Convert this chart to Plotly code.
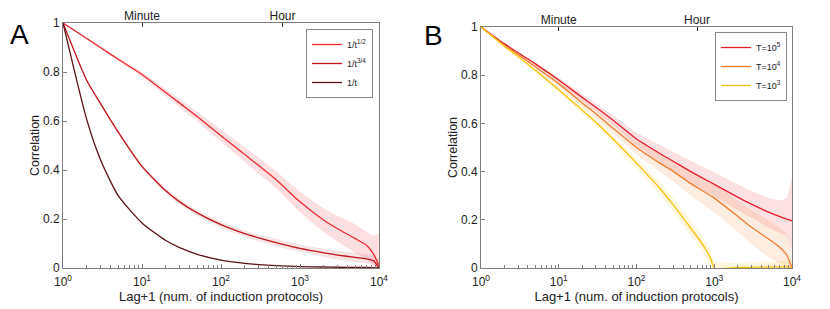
import plotly.graph_objects as go

# ---------------- data ----------------
# Panel A
a_t = [1, 2, 3, 5, 10, 20, 30, 50, 100, 200, 300, 500, 1000, 2000, 3000, 5000, 7000, 8500, 10000]
a_half = [1.0, 0.937, 0.899, 0.852, 0.79, 0.716, 0.673, 0.618, 0.54, 0.463, 0.418, 0.36, 0.27, 0.195, 0.16, 0.12, 0.092, 0.058, 0.01]
a_half_hi = [1.0, 0.942, 0.904, 0.859, 0.80, 0.73, 0.689, 0.638, 0.565, 0.493, 0.451, 0.395, 0.312, 0.243, 0.213, 0.178, 0.147, 0.132, 0.14]
a_half_lo = [1.0, 0.932, 0.894, 0.845, 0.78, 0.702, 0.657, 0.598, 0.515, 0.433, 0.385, 0.325, 0.228, 0.147, 0.107, 0.062, 0.035, 0.012, 0.0]
a_34 = [1.0, 0.765, 0.67, 0.555, 0.415, 0.315, 0.27, 0.225, 0.177, 0.14, 0.123, 0.104, 0.08, 0.062, 0.053, 0.043, 0.037, 0.03, 0.0]
a_34_hi = [1.0, 0.77, 0.677, 0.563, 0.424, 0.325, 0.281, 0.237, 0.19, 0.153, 0.137, 0.119, 0.095, 0.079, 0.071, 0.062, 0.056, 0.05, 0.03]
a_34_lo = [1.0, 0.76, 0.663, 0.547, 0.406, 0.305, 0.259, 0.213, 0.164, 0.127, 0.109, 0.089, 0.065, 0.045, 0.035, 0.024, 0.018, 0.012, 0.0]
a_one = [1.0, 0.605, 0.44, 0.295, 0.184, 0.112, 0.083, 0.056, 0.032, 0.019, 0.014, 0.01, 0.006, 0.004, 0.003, 0.002, 0.002, 0.001, 0.0]

# Panel B
b_t = [1, 2, 3, 5, 10, 20, 30, 50, 100, 200, 300, 500, 1000, 2000, 3000, 5000, 7000, 8500, 10000]
b_t5 = [1.0, 0.93, 0.893, 0.847, 0.78, 0.708, 0.667, 0.613, 0.535, 0.475, 0.442, 0.40, 0.347, 0.294, 0.265, 0.232, 0.213, 0.203, 0.196]
b_t5_hi = [1.0, 0.935, 0.898, 0.854, 0.79, 0.722, 0.683, 0.633, 0.562, 0.51, 0.481, 0.445, 0.397, 0.347, 0.32, 0.292, 0.281, 0.29, 0.37]
b_t5_lo = [1.0, 0.925, 0.888, 0.84, 0.77, 0.694, 0.651, 0.593, 0.508, 0.44, 0.403, 0.355, 0.297, 0.241, 0.208, 0.168, 0.145, 0.132, 0.07]
b_t4 = [1.0, 0.925, 0.886, 0.835, 0.765, 0.685, 0.64, 0.58, 0.50, 0.435, 0.40, 0.35, 0.29, 0.215, 0.17, 0.12, 0.085, 0.055, 0.0]
b_t4_hi = [1.0, 0.93, 0.892, 0.843, 0.777, 0.701, 0.659, 0.603, 0.528, 0.472, 0.442, 0.40, 0.35, 0.28, 0.24, 0.197, 0.165, 0.14, 0.05]
b_t4_lo = [1.0, 0.92, 0.88, 0.827, 0.753, 0.669, 0.621, 0.557, 0.472, 0.398, 0.358, 0.30, 0.23, 0.15, 0.10, 0.045, 0.02, 0.005, 0.0]
b_t3x = [1, 2, 3, 5, 10, 20, 30, 50, 100, 200, 300, 500, 700, 900, 1000, 2000, 3000, 5000, 7000, 8500, 10000]
b_t3 = [1.0, 0.92, 0.878, 0.82, 0.74, 0.655, 0.605, 0.535, 0.435, 0.33, 0.26, 0.165, 0.10, 0.04, 0.0, 0.002, 0.003, 0.004, 0.005, 0.005, 0.0]
b_t3_hi = [1.0, 0.925, 0.884, 0.828, 0.75, 0.669, 0.62, 0.553, 0.455, 0.355, 0.287, 0.195, 0.13, 0.07, 0.03, 0.02, 0.022, 0.025, 0.028, 0.03, 0.03]
b_t3_lo = [1.0, 0.915, 0.872, 0.812, 0.73, 0.641, 0.59, 0.517, 0.415, 0.305, 0.233, 0.135, 0.07, 0.01, 0.0, 0.0, 0.0, 0.0, 0.0, 0.0, 0.0]

x_tickvals = [1, 10, 100, 1000, 10000]
x_ticktext = ["10<sup>0</sup>", "10<sup>1</sup>", "10<sup>2</sup>", "10<sup>3</sup>", "10<sup>4</sup>"]
x_minor_tickvals = [m * 10 ** d for d in range(4) for m in range(2, 10)]
y_tickvals = [0, 0.2, 0.4, 0.6, 0.8, 1.0]
y_ticktext = ["0", "0.2", "0.4", "0.6", "0.8", "1"]
top_tickvals = [10, 600]
top_ticktext = ["Minute", "Hour"]

# ---------------- figure ----------------
FONT = "Liberation Sans, Arial, sans-serif"
AX = "#7f7f7f"
fig = go.Figure()


def band(x, hi, lo, color, xa, ya):
    fig.add_trace(go.Scatter(x=list(x) + list(x)[::-1], y=list(hi) + list(lo)[::-1],
                             fill="toself", fillcolor=color,
                             line=dict(width=0, shape="spline", smoothing=0.6),
                             mode="lines", hoverinfo="skip", showlegend=False,
                             xaxis=xa, yaxis=ya))


def line(x, y, color, name, xa, ya, legend):
    fig.add_trace(go.Scatter(x=x, y=y, mode="lines", name=name,
                             line=dict(color=color, width=1.3, shape="spline", smoothing=0.6),
                             xaxis=xa, yaxis=ya, legend=legend))


# Panel A
band(a_t, a_half_hi, a_half_lo, "rgba(235,60,70,0.16)", "x", "y")
band(a_t, a_34_hi, a_34_lo, "rgba(200,70,80,0.14)", "x", "y")
line(a_t, a_half, "#ee2a30", "1/t<sup>1/2</sup>", "x", "y", "legend")
line(a_t, a_34, "#c0161d", "1/t<sup>3/4</sup>", "x", "y", "legend")
line(a_t, a_one, "#5c1216", "1/t", "x", "y", "legend")

# Panel B
band(b_t, b_t5_hi, b_t5_lo, "rgba(232,40,50,0.14)", "x2", "y2")
band(b_t, b_t4_hi, b_t4_lo, "rgba(242,130,50,0.15)", "x2", "y2")
band(b_t3x, b_t3_hi, b_t3_lo, "rgba(250,200,30,0.15)", "x2", "y2")
line(b_t, b_t5, "#e61e2a", "T=10<sup>5</sup>", "x2", "y2", "legend2")
line(b_t, b_t4, "#f27c2c", "T=10<sup>4</sup>", "x2", "y2", "legend2")
line(b_t3x, b_t3, "#fcc30c", "T=10<sup>3</sup>", "x2", "y2", "legend2")

# dummy traces so the top (time) axes are drawn
fig.add_trace(go.Scatter(x=[1, 10000], y=[None, None], xaxis="x3", yaxis="y",
                         showlegend=False, hoverinfo="skip", mode="lines"))
fig.add_trace(go.Scatter(x=[1, 10000], y=[None, None], xaxis="x4", yaxis="y2",
                         showlegend=False, hoverinfo="skip", mode="lines"))

W, H = 830, 309
common_x = dict(type="log", range=[0, 4], tickmode="array", tickvals=x_tickvals,
                ticktext=x_ticktext, ticks="inside", ticklen=4, tickcolor=AX,
                showline=True, linecolor=AX, linewidth=1, mirror=True,
                showgrid=False, zeroline=False, automargin=False,
                ticklabelstandoff=3,
                minor=dict(ticks="inside", ticklen=3, tickcolor=AX, showgrid=False,
                           tickmode="array", tickvals=x_minor_tickvals),
                tickfont=dict(size=12, color="#222"),
                title=dict(text="Lag+1 (num. of induction protocols)",
                           font=dict(size=13, color="#222"), standoff=0))
common_y = dict(range=[0, 1], tickmode="array", tickvals=y_tickvals, ticktext=y_ticktext,
                ticks="inside", ticklen=4, tickcolor=AX,
                showline=True, linecolor=AX, linewidth=1, mirror=True,
                showgrid=False, zeroline=False, automargin=False,
                tickfont=dict(size=12, color="#222"),
                title=dict(text="Correlation", font=dict(size=12.5, color="#222"), standoff=0))
common_top = dict(type="log", range=[0, 4], tickmode="array", tickvals=top_tickvals,
                  ticktext=top_ticktext, ticks="inside", ticklen=4, tickcolor="#333",
                  side="top", showline=False, showgrid=False, zeroline=False,
                  automargin=False, tickfont=dict(size=12, color="#222"))

fig.update_layout(
    width=W, height=H, autosize=False,
    margin=dict(l=0, r=0, t=0, b=0),
    paper_bgcolor="white", plot_bgcolor="white",
    font=dict(family=FONT, color="#222"),
    xaxis=dict(common_x, domain=[63 / W, 379 / W], anchor="y"),
    yaxis=dict(common_y, domain=[1 - 268 / H, 1 - 23 / H], anchor="x"),
    xaxis2=dict(common_x, domain=[481 / W, 792 / W], anchor="y2"),
    yaxis2=dict(common_y, domain=[1 - 268 / H, 1 - 27 / H], anchor="x2"),
    xaxis3=dict(common_top, overlaying="x", anchor="y"),
    xaxis4=dict(common_top, overlaying="x2", anchor="y2"),
    legend=dict(x=373 / W, y=1 - 29 / H, xanchor="right", yanchor="top",
                bordercolor="#888", borderwidth=1, bgcolor="white",
                font=dict(size=9, color="#222"), itemwidth=30, tracegroupgap=0),
    legend2=dict(x=787 / W, y=1 - 32 / H, xanchor="right", yanchor="top",
                 bordercolor="#888", borderwidth=1, bgcolor="white",
                 font=dict(size=9, color="#222"), itemwidth=30, tracegroupgap=0),
    showlegend=True,
    annotations=[
        dict(text="A", x=19 / W, y=1 - 34 / H, xref="paper", yref="paper",
             xanchor="center", yanchor="middle",
             showarrow=False, font=dict(size=28, color="black", family=FONT)),
        dict(text="B", x=433 / W, y=1 - 36 / H, xref="paper", yref="paper",
             xanchor="center", yanchor="middle",
             showarrow=False, font=dict(size=28, color="black", family=FONT)),
    ],
)

fig.write_html("out.html", config={"displayModeBar": False},
               post_script="document.body.style.margin='0px';document.body.style.overflow='hidden';")
